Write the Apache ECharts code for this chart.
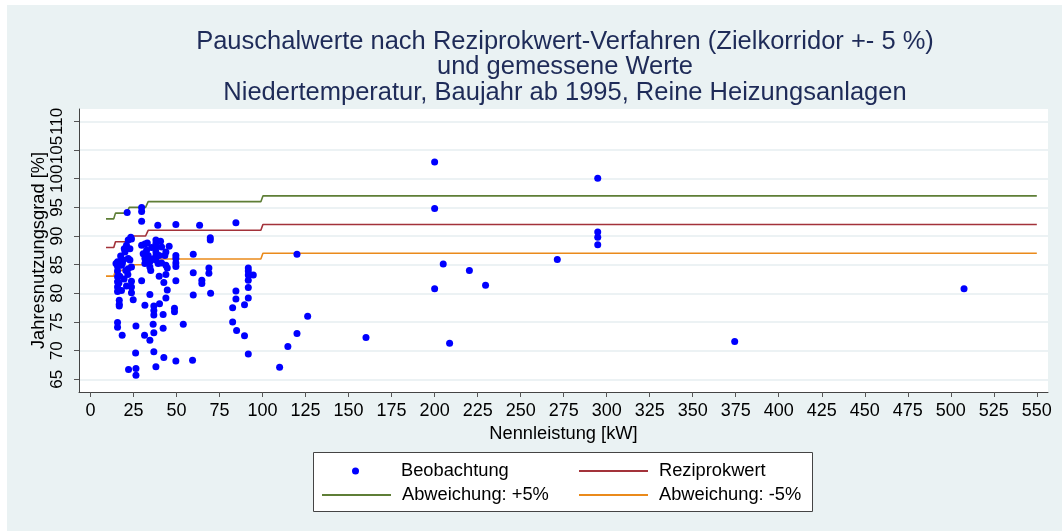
<!DOCTYPE html>
<html>
<head>
<meta charset="utf-8">
<script src="https://cdn.jsdelivr.net/npm/echarts@6/dist/echarts.min.js"></script>
<style>
  html, body { margin: 0; padding: 0; background: #fff; }
  #chart { width: 1062px; height: 531px; }
</style>
</head>
<body>
<div id="chart"></div>
<script>
const FONT = "'Liberation Sans', Arial, sans-serif"

// Beobachtungen (Nennleistung kW / Jahresnutzungsgrad %)
const obsX = [
  21.3, 29.7, 29.7, 29.7, 39.1, 49.6, 63.4, 84.5, 69.6, 69.6, 23.4,
  15.7, 15.7, 15.7, 15.7, 15.7, 15.7, 15.7, 16.7, 16.7, 16.7, 15.7, 15.7, 18.4, 14.8,
  19.6, 20.9, 21.9, 23.8, 22.9, 20.0, 21.9, 19.0, 22.9, 18.0, 21.9, 23.8, 21.7, 23.8,
  20.9, 23.8, 23.8, 24.8, 26.4, 26.2, 22.1, 26.4, 26.4,
  29.7, 31.6, 32.6, 30.6, 31.6, 33.5, 34.5, 34.5, 31.6, 29.7, 34.5, 31.6, 36.8, 36.8,
  36.8, 36.4, 36.8, 34.5, 31.4, 36.8, 38.0,
  38.0, 38.0, 38.0, 38.0, 38.0, 38.0, 39.3, 40.7, 41.3, 39.9, 42.6, 43.8, 44.6, 43.8,
  43.2, 43.8, 45.7, 44.6, 43.8, 40.1, 42.2, 42.2, 42.6, 39.9, 41.3,
  49.6, 49.6, 49.6, 49.6, 49.6, 48.8, 48.8, 49.6,
  53.9, 59.7, 59.7, 59.7, 59.3, 64.7, 64.7, 68.8, 68.8, 69.8, 82.6, 82.6, 84.5, 84.5,
  84.9, 89.5, 89.5, 91.7, 91.7, 91.7, 91.7, 91.7, 91.7, 91.7, 94.6,
  109.9, 114.7, 120.0, 120.0, 126.2, 160.1, 200.0, 200.0, 200.0, 205.0, 208.7, 220.2,
  229.6, 271.3, 294.8, 294.8, 294.8, 294.8, 374.4, 507.7,
  17.5, 18.5, 17.0, 20.5, 19.5, 18.0, 16.5, 35.5, 36.0, 33.0, 35.0
]
const obsY = [
  94.1, 95.0, 94.3, 92.6, 91.9, 92.0, 91.9, 92.3, 89.7, 89.3, 89.8,
  85.5, 84.7, 83.9, 82.9, 82.0, 81.1, 80.3, 78.8, 78.1, 77.8, 74.9, 74.1, 72.7, 85.2,
  87.8, 88.4, 89.3, 89.5, 87.8, 87.2, 86.1, 85.8, 85.8, 84.9, 84.3, 84.6, 83.3, 82.1,
  81.3, 81.1, 80.1, 78.9, 74.3, 69.6, 66.7, 66.9, 65.7,
  88.4, 88.6, 87.5, 86.9, 86.1, 86.6, 85.5, 84.6, 85.2, 82.2, 79.8, 77.9, 77.8, 77.0,
  76.2, 74.6, 73.1, 71.8, 72.7, 69.8, 67.2,
  89.3, 88.7, 88.0, 87.2, 86.5, 85.8, 85.2, 89.1, 88.1, 83.0, 81.9, 83.3, 84.4, 84.9,
  86.6, 87.2, 88.2, 80.6, 79.2, 78.2, 76.3, 73.9, 68.8, 86.6, 85.3,
  86.6, 86.1, 85.3, 84.7, 82.2, 77.4, 76.8, 68.2,
  74.6, 86.8, 83.6, 79.7, 68.3, 82.3, 81.7, 84.4, 83.5, 80.0, 77.5, 75.0, 80.4, 79.0,
  73.5, 78.0, 72.6, 84.4, 83.9, 83.2, 82.3, 81.0, 79.2, 69.4, 83.2,
  67.1, 70.7, 73.0, 86.8, 76.0, 72.3, 102.9, 94.8, 80.8, 85.1, 71.3, 84.0,
  81.4, 85.9, 100.1, 90.7, 89.8, 88.5, 71.6, 80.8,
  86.5, 85.2, 83.0, 84.0, 82.5, 80.5, 81.8, 88.0, 86.0, 88.8, 84.0
]

// Pauschalwerte (Stufen)
const stepX = [9, 13.5, 14.5, 21, 22.5, 32, 33.5, 99, 100.2, 550]
const refVals = [88, 88, 89, 89, 90, 90, 91, 91, 92, 92]
const plusVals = [93, 93, 94, 94, 95, 95, 96, 96, 97, 97]
const minusVals = [83, 83, 84, 84, 85, 85, 86, 86, 87, 87]

const xTicks = [0, 25, 50, 75, 100, 125, 150, 175, 200, 225, 250, 275, 300, 325, 350, 375, 400, 425, 450, 475, 500, 525, 550]
const yTicks = [65, 70, 75, 80, 85, 90, 95, 100, 105, 110]

const zip = (xs, ys) => xs.map((x, i) => [x, ys[i]])

const chart = echarts.init(document.getElementById('chart'))

const legendBase = {
	orient: 'horizontal',
	padding: 0,
	itemWidth: 69,
	itemHeight: 14,
	selectedMode: false,
	// nur die Linie zeigen, kein Symbol in der Mitte
	itemStyle: { color: 'rgba(0,0,0,0)', borderWidth: 0, opacity: 0 },
	textStyle: { fontFamily: FONT, fontSize: 18.3, color: '#000', padding: [0, 0, 0, 6], lineHeight: 20 },
}

const option = {
	backgroundColor: '#eaf2f3',
	animation: false,
	textStyle: { fontFamily: FONT },
	title: {
		text: 'Pauschalwerte nach Reziprokwert-Verfahren (Zielkorridor +- 5 %)\nund gemessene Werte\nNiedertemperatur, Baujahr ab 1995, Reine Heizungsanlagen',
		left: 565,
		top: 29,
		padding: 0,
		textAlign: 'center',
		textStyle: { fontFamily: FONT, fontSize: 25.5, lineHeight: 25.5, fontWeight: 'normal', color: '#1e2b58' },
	},
	graphic: {
		elements: [
			{ type: 'rect', left: 0, top: 0, shape: { width: 1062, height: 5 }, style: { fill: '#fff' }, silent: true },
			{ type: 'rect', left: 0, top: 0, shape: { width: 7, height: 531 }, style: { fill: '#fff' }, silent: true },
			{ type: 'rect', left: 313, top: 452, shape: { width: 499, height: 59 }, style: { fill: '#fff', stroke: '#444', lineWidth: 1 }, silent: true },
		],
	},
	legend: [
		{
			...legendBase,
			data: [{ name: 'Beobachtung', icon: 'circle' }],
			itemWidth: 7,
			itemHeight: 7,
			itemStyle: {},
			textStyle: { ...legendBase.textStyle, padding: [0, 0, 0, 37] },
			left: 352,
			top: 461,
		},
		{ ...legendBase, data: ['Reziprokwert'], left: 578, top: 461 },
		{ ...legendBase, data: ['Abweichung: +5%'], left: 321, top: 485 },
		{ ...legendBase, data: ['Abweichung: -5%'], left: 578, top: 485 },
	],
	grid: {
		left: 79,
		right: 14,
		top: 109,
		bottom: 139,
		show: true,
		backgroundColor: '#fff',
		borderWidth: 0,
		containLabel: false,
		outerBoundsMode: 'none',
	},
	xAxis: {
		type: 'value',
		min: -6.7,
		max: 556.5,
		name: 'Nennleistung [kW]',
		nameLocation: 'middle',
		nameGap: 30,
		nameTextStyle: { fontFamily: FONT, fontSize: 18.3, color: '#000' },
		axisLine: { show: true, onZero: false, lineStyle: { color: '#444', width: 1 } },
		axisTick: { show: true, customValues: xTicks, length: 5, lineStyle: { color: '#555' } },
		axisLabel: { customValues: xTicks, fontFamily: FONT, fontSize: 18, color: '#000', margin: 10 },
		splitLine: { show: false },
	},
	yAxis: {
		type: 'value',
		min: 62.78,
		max: 112.17,
		name: 'Jahresnutzungsgrad [%]',
		nameLocation: 'middle',
		nameGap: 31,
		nameMoveOverlap: false,
		nameTextStyle: { fontFamily: FONT, fontSize: 18.3, color: '#000' },
		axisLine: { show: true, onZero: false, lineStyle: { color: '#444', width: 1 } },
		axisTick: { show: true, customValues: yTicks, length: 5, lineStyle: { color: '#555' } },
		axisLabel: { customValues: yTicks, rotate: 90, fontFamily: FONT, fontSize: 17, color: '#000', margin: 13, hideOverlap: false },
		splitLine: { show: true, lineStyle: { color: '#e6eef0', width: 1.5 } },
	},
	series: [
		{
			name: 'Beobachtung',
			type: 'scatter',
			data: zip(obsX, obsY),
			symbol: 'circle',
			symbolSize: 7,
			itemStyle: { color: '#0000ff', opacity: 1 },
			z: 3,
		},
		{
			name: 'Reziprokwert',
			type: 'line',
			data: zip(stepX, refVals),
			symbol: 'none',
			lineStyle: { color: '#a3323a', width: 1.6 },
			itemStyle: { color: '#a3323a' },
			z: 2,
		},
		{
			name: 'Abweichung: +5%',
			type: 'line',
			data: zip(stepX, plusVals),
			symbol: 'none',
			lineStyle: { color: '#5e7e36', width: 1.6 },
			itemStyle: { color: '#5e7e36' },
			z: 2,
		},
		{
			name: 'Abweichung: -5%',
			type: 'line',
			data: zip(stepX, minusVals),
			symbol: 'none',
			lineStyle: { color: '#ea8a1b', width: 1.6 },
			itemStyle: { color: '#ea8a1b' },
			z: 2,
		},
	],
}

chart.setOption(option)
</script>
</body>
</html>
